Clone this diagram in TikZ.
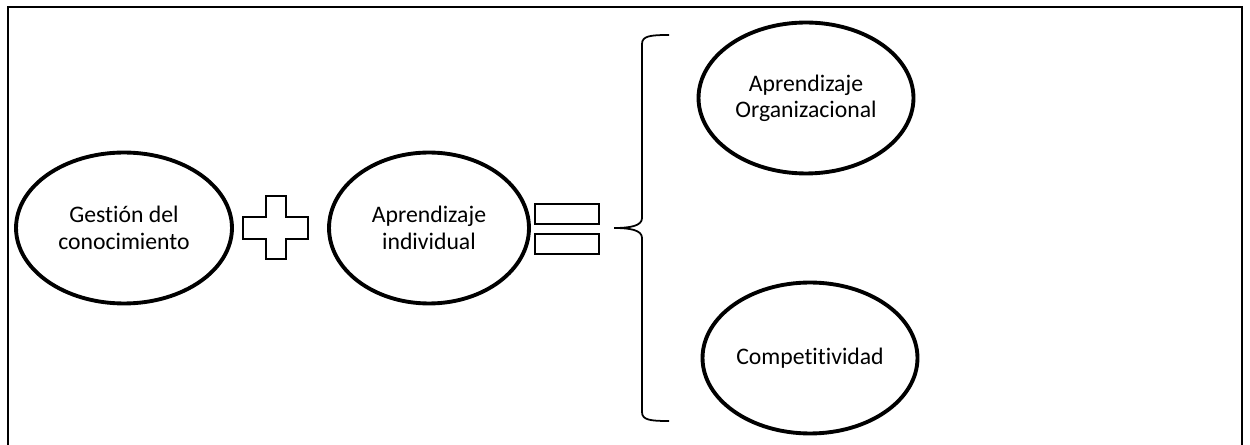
\documentclass[tikz,border=0pt]{standalone}
\usepackage{fontspec}
\setmainfont[Ligatures=NoCommon]{Carlito}
\usetikzlibrary{shapes.geometric}
\begin{document}
\begin{tikzpicture}[x=0.02cm,y=-0.02cm,
  idea/.style={ellipse,draw,line width=2.2pt,inner sep=0pt,
    minimum width=4.3cm,minimum height=3.02cm,align=center,
    font=\fontsize{13.5}{15}\selectfont},
  sign/.style={draw,line width=0.8pt},
  frame/.style={draw,line width=1pt}]
\useasboundingbox (0,0) rectangle (1250,445);
% outer frame, open at the bottom
\draw[frame] (8,445) -- (8,7) -- (1242,7) -- (1242,445);
% terms of the sum
\node[idea,minimum width=4.32cm] (gc) at (124,228) {Gestión del\\conocimiento};
\node[idea,minimum width=4.0cm] (ai) at (429,228) {Aprendizaje\\individual};
% plus sign
\draw[sign] (266,196) -- (286,196) -- (286,217) -- (308,217) -- (308,239)
  -- (286,239) -- (286,259) -- (266,259) -- (266,239) -- (243,239)
  -- (243,217) -- (266,217) -- cycle;
% equals sign
\draw[sign] (535,204) rectangle (599,224);
\draw[sign] (535,234) rectangle (599,254);
% curly brace
\draw[line width=1pt] (669,35) .. controls (650,35) and (642,36) .. (642,44)
  -- (642,218) .. controls (642,226) and (630,228) .. (614,228)
  .. controls (630,228) and (642,230) .. (642,238)
  -- (642,412) .. controls (642,420) and (650,421) .. (669,421);
% results
\node[idea] (ao) at (806,98) {Aprendizaje\\Organizacional};
\node[idea] (co) at (810,358) {Competitividad};
\end{tikzpicture}
\end{document}
